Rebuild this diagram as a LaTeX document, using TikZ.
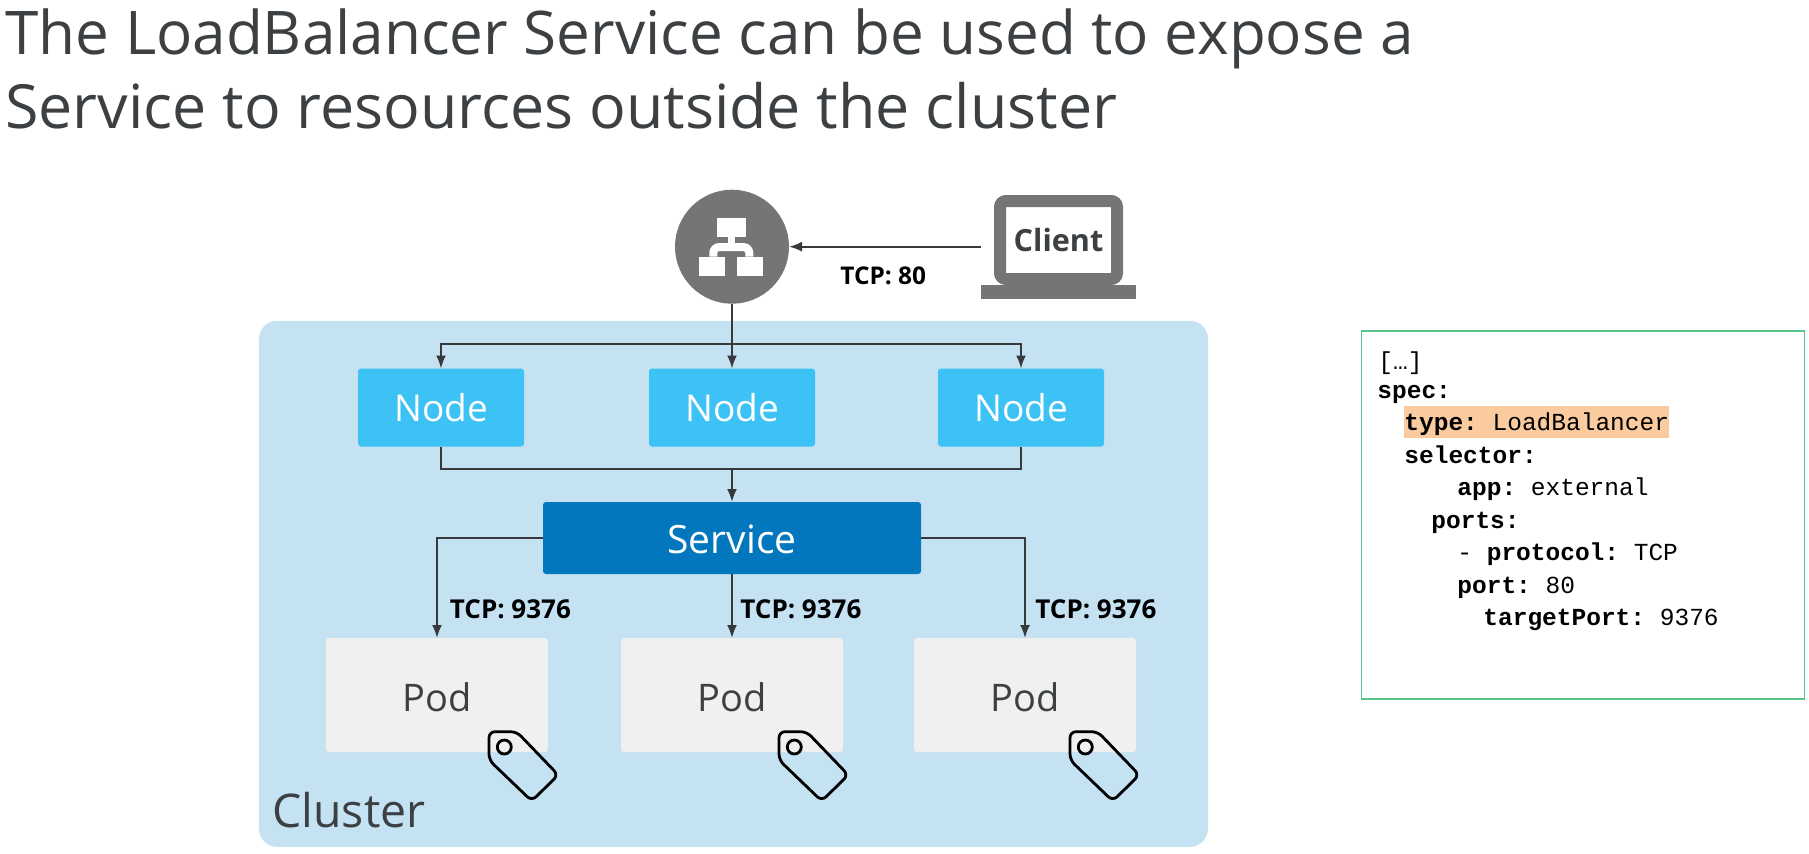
\documentclass[tikz,border=0pt]{standalone}
\usepackage{fontspec}
\setmainfont{Open Sans}
\setmonofont{Liberation Mono}
\usetikzlibrary{arrows.meta}
\definecolor{titlegray}{HTML}{3C4043}
\definecolor{clusterblue}{HTML}{C5E2F3}
\definecolor{nodeblue}{HTML}{3DC2F5}
\definecolor{serviceblue}{HTML}{0277BD}
\definecolor{podgray}{HTML}{F0F0F0}
\definecolor{icongray}{HTML}{757575}
\definecolor{wiregray}{HTML}{37393C}
\definecolor{codegreen}{HTML}{56C68A}
\definecolor{codeorange}{HTML}{FBCBA0}
\tikzset{
    boxbase/.style={rectangle, rounded corners=1.5pt, inner sep=0pt, outer sep=0pt},
    nodebox/.style={boxbase, fill=nodeblue, text=white, minimum width=83pt, minimum height=39pt, text height=14.5pt, font=\fontsize{18.5}{20}\selectfont},
    servicebox/.style={boxbase, fill=serviceblue, text=white, minimum width=189pt, minimum height=36pt, text height=15.6pt, font=\fontsize{19.5}{21}\selectfont},
    podbox/.style={boxbase, fill=podgray, text=titlegray, minimum width=111pt, minimum height=57pt, text height=17pt, font=\fontsize{19}{20}\selectfont},
    wire/.style={wiregray, line width=1pt},
    arrowwire/.style={wire, -{Latex[length=6.5pt,width=5pt]}},
    tcplabel/.style={anchor=base west, inner sep=0pt, font=\fontsize{13}{15}\selectfont\bfseries},
    codeline/.style={anchor=base west, inner sep=0pt, font=\ttfamily\fontsize{12.25}{14}\selectfont},
    titleline/.style={anchor=base west, inner sep=0pt, text=titlegray, font=\fontsize{30.1}{36}\selectfont},
    tagicon/.pic={
        \draw[black, line width=1.4pt, line join=round, rounded corners=3pt]
            (0,0) -- (27.7,0) -- (69.3,43.3) -- (42.7,69.3) -- (0,28.3) -- cycle;
        \draw[black, line width=1.4pt] (15.3,15.3) circle (3.5pt);
    }
}
\begin{document}
\begin{tikzpicture}[x=0.5pt, y=-0.5pt]
    \useasboundingbox (0,0) rectangle (1809,853);
    % title
    \node[titleline] (title1) at (5,54) {The LoadBalancer Service can be used to expose a};
    \node[titleline, font=\fontsize{30.45}{36}\selectfont] (title2) at (5,128) {Service to resources outside the cluster};
    % cluster
    \node[rectangle, rounded corners=9pt, fill=clusterblue, minimum width=474.5pt, minimum height=263pt, inner sep=0pt] (cluster) at (733.5,583.75) {};
    \node[anchor=base west, inner sep=0pt, text=titlegray, font=\fontsize{23.2}{27}\selectfont] (clusterlabel) at (272,827) {Cluster};
    % load balancer
    \node[circle, fill=icongray, minimum size=57pt, inner sep=0pt, outer sep=0pt] (lb) at (732,246.7) {};
    \fill[white] (716.7,217.7) rectangle (745.7,236.7);
    \fill[white] (728,236.7) rectangle (735,243.3);
    \draw[white, line width=4pt, rounded corners=3pt] (713.3,256.7) -- (713.3,247) -- (749.3,247) -- (749.3,256.7);
    \fill[white] (699,256.7) rectangle (725,276);
    \fill[white] (737.3,256.7) rectangle (763.3,276);
    % client
    \node[rectangle, draw=icongray, line width=6pt, rounded corners=3pt, fill=white, minimum width=58.5pt, minimum height=39pt, inner sep=0pt, outer sep=0pt, text=titlegray, font=\fontsize{15.3}{18}\selectfont\bfseries] (laptop) at (1058.5,240) {Client};
    \node[rectangle, fill=icongray, minimum width=77.5pt, minimum height=7pt, inner sep=0pt] (laptopbase) at (1058.5,291.5) {};
    \draw[arrowwire, shorten <=9.5pt] (laptop.west |- lb) -- (lb);
    \node[tcplabel, font=\fontsize{12.2}{14}\selectfont\bfseries] (tcpclient) at (840,284.3) {TCP: 80};
    % nodes
    \node[nodebox] (node1) at (441,407.5) {Node};
    \node[nodebox] (node2) at (732,407.5) {Node};
    \node[nodebox] (node3) at (1021,407.5) {Node};
    \coordinate (topbus) at (732,343.5);
    \coordinate (midbus) at (732,469);
    \draw[arrowwire] (lb) -- (node2);
    \draw[arrowwire] (topbus) -| (node1);
    \draw[arrowwire] (topbus) -| (node3);
    \draw[wire] (node1) |- (midbus) -| (node3);
    % service
    \node[servicebox] (service) at (732,538) {Service};
    \draw[arrowwire] (midbus) -- (service);
    % pods
    \node[podbox] (pod1) at (437,695) {Pod};
    \node[podbox] (pod2) at (732,695) {Pod};
    \node[podbox] (pod3) at (1025,695) {Pod};
    \draw[arrowwire] (service) -| (pod1);
    \draw[arrowwire] (service) -- (pod2);
    \draw[arrowwire] (service) -| (pod3);
    \node[tcplabel] (tcppod1) at (449.5,618) {TCP: 9376};
    \node[tcplabel] (tcppod2) at (740,618) {TCP: 9376};
    \node[tcplabel] (tcppod3) at (1035,618) {TCP: 9376};
    \pic at (489,731.7) {tagicon};
    \pic at (779,731.7) {tagicon};
    \pic at (1070,731.7) {tagicon};
    % yaml box
    \node[rectangle, draw=codegreen, line width=0.6pt, minimum width=221.5pt, minimum height=184pt, inner sep=0pt] (codebox) at (1583,515) {};
    \node[rectangle, fill=codeorange, minimum width=132.5pt, minimum height=16pt, inner sep=0pt] (typemark) at (1536.5,421.7) {};
    \node[codeline] (line1) at (1378,369) {[…]};
    \node[codeline] (line2) at (1377,398) {\textbf{spec:}};
    \node[codeline] (line3) at (1404,430.7) {\textbf{type:} LoadBalancer};
    \node[codeline] (line4) at (1404,463) {\textbf{selector:}};
    \node[codeline] (line5) at (1457,495.7) {\textbf{app:} external};
    \node[codeline] (line6) at (1431,528) {\textbf{ports:}};
    \node[codeline] (line7) at (1457,560.7) {- \textbf{protocol:} TCP};
    \node[codeline] (line8) at (1457,593) {\textbf{port:} 80};
    \node[codeline] (line9) at (1483,625.5) {\textbf{targetPort:} 9376};
\end{tikzpicture}
\end{document}
